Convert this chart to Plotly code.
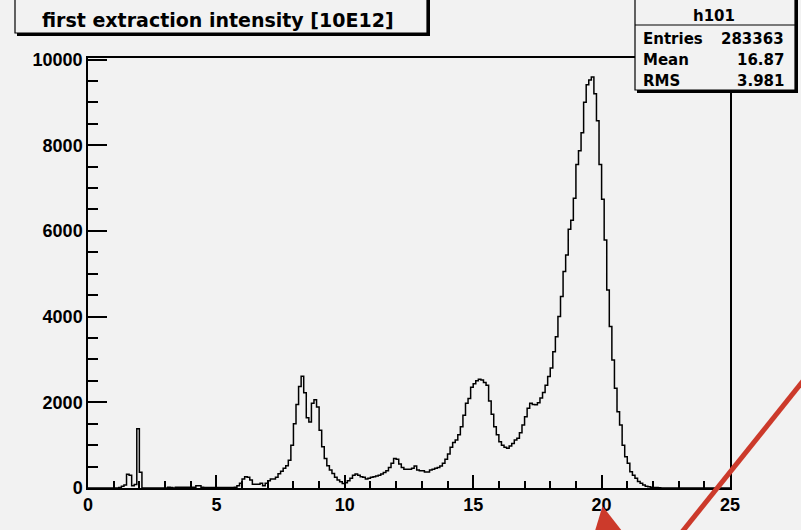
import numpy as np
import plotly.graph_objects as go

# -----------------------------------------------------------------------------
# Histogram h101: 250 bins of width 0.1 between 0 and 25
# -----------------------------------------------------------------------------
BIN_WIDTH = 0.1
counts = [
    # 0.0 - 0.9
    0, 0, 0, 0, 0, 0, 0, 0, 0, 0,
    # 1.0 - 1.9
    0, 0, 10, 40, 70, 320, 300, 55, 80, 1380,
    # 2.0 - 2.9
    370, 0, 0, 0, 0, 0, 0, 0, 0, 0,
    # 3.0 - 3.9
    0, 20, 10, 0, 15, 20, 20, 20, 20, 20,
    # 4.0 - 4.9
    20, 20, 55, 55, 15, 10, 10, 10, 10, 10,
    # 5.0 - 5.9
    10, 10, 10, 10, 10, 10, 10, 20, 50, 110,
    # 6.0 - 6.9
    210, 265, 250, 185, 90, 85, 85, 110, 50, 110,
    # 7.0 - 7.9
    170, 210, 210, 250, 330, 390, 460, 520, 650, 1000,
    # 8.0 - 8.9
    1500, 1950, 2370, 2610, 2220, 1640, 1540, 1980, 2060, 1890,
    # 9.0 - 9.9
    1350, 960, 690, 520, 420, 340, 250, 185, 145, 105,
    # 10.0 - 10.9
    125, 170, 225, 300, 325, 300, 265, 250, 210, 225,
    # 11.0 - 11.9
    250, 265, 280, 300, 325, 360, 400, 480, 575, 690,
    # 12.0 - 12.9
    670, 560, 480, 435, 435, 435, 460, 515, 420, 400,
    # 13.0 - 13.9
    400, 375, 375, 420, 440, 460, 480, 515, 575, 670,
    # 14.0 - 14.9
    795, 950, 1060, 1120, 1240, 1430, 1700, 1980, 2090, 2350,
    # 15.0 - 15.9
    2430, 2500, 2540, 2520, 2460, 2400, 2030, 1720, 1430, 1240,
    # 16.0 - 16.9
    1080, 1000, 950, 925, 980, 1040, 1120, 1160, 1290, 1470,
    # 17.0 - 17.9
    1665, 1860, 1980, 1950, 1940, 1990, 2100, 2230, 2400, 2600,
    # 18.0 - 18.9
    2800, 3180, 3530, 4000, 4470, 5050, 5440, 6040, 6250, 6760,
    # 19.0 - 19.9
    7550, 7870, 8290, 9000, 9410, 9520, 9590, 9200, 8570, 7550,
    # 20.0 - 20.9
    6740, 5790, 4620, 3770, 2990, 2330, 1780, 1470, 1000, 730,
    # 21.0 - 21.9
    580, 380, 300, 230, 150, 110, 70, 40, 30, 20,
    # 22.0 - 22.9
    10, 10, 5, 0, 0, 0, 0, 0, 0, 0,
    # 23.0 - 24.9
    0, 0, 0, 0, 0, 0, 0, 0, 0, 0,
    0, 0, 0, 0, 0, 0, 0, 0, 0, 0,
]
bin_edges = np.round(np.arange(len(counts) + 1) * BIN_WIDTH, 1)

x_ticks = [0, 5, 10, 15, 20, 25]
y_ticks = [0, 2000, 4000, 6000, 8000, 10000]
y_tick_text = ["0", "2000", "4000", "6000", "8000", "10000"]

title_text = "first extraction intensity [10E12]"
stats_name = "h101"
stats_rows = [("Entries", "283363"), ("Mean", "16.87"), ("RMS", "3.981")]

# -----------------------------------------------------------------------------
# Canvas geometry (pixels) - plot frame inside the 801x530 canvas
# -----------------------------------------------------------------------------
W, H = 801, 530
L, R, T, B = 88, 730, 58, 488
BG = "#f2f2f2"
RED = "#cc3a2b"


def px(x):
    return (x - L) / (R - L)


def py(y):
    return (B - y) / (B - T)


fig = go.Figure()

fig.add_trace(
    go.Scatter(
        x=bin_edges,
        y=counts + [counts[-1]],
        mode="lines",
        line=dict(color="black", width=1.5, shape="hv"),
        hoverinfo="skip",
        showlegend=False,
    )
)

axis_font = dict(family="Liberation Sans", size=18, color="black", weight="bold")

fig.update_xaxes(
    range=[0, 25],
    tickvals=x_ticks,
    ticks="inside",
    ticklen=13,
    tickwidth=1.5,
    tickcolor="black",
    minor=dict(ticks="inside", ticklen=7, dtick=1, tickwidth=1.5, tickcolor="black"),
    showline=True,
    linecolor="black",
    linewidth=1.5,
    mirror=True,
    showgrid=False,
    zeroline=False,
    tickfont=axis_font,
)
fig.update_yaxes(
    range=[0, 10035],
    tickvals=y_ticks,
    ticktext=y_tick_text,
    ticks="inside",
    ticklen=19,
    tickwidth=1.5,
    tickcolor="black",
    minor=dict(ticks="inside", ticklen=10, dtick=500, tickwidth=1.5, tickcolor="black"),
    showline=True,
    linecolor="black",
    linewidth=1.5,
    mirror=True,
    showgrid=False,
    zeroline=False,
    tickfont=axis_font,
)

shapes = []
annotations = []

# title box with ROOT-style shadow
shapes.append(dict(type="rect", xref="paper", yref="paper",
                   x0=px(17), x1=px(430), y0=py(-5), y1=py(36),
                   fillcolor="black", line=dict(width=0), layer="above"))
shapes.append(dict(type="rect", xref="paper", yref="paper",
                   x0=px(15), x1=px(427), y0=py(-5), y1=py(33),
                   fillcolor=BG, line=dict(color="black", width=1.2), layer="above"))
annotations.append(dict(xref="paper", yref="paper", x=px(218), y=py(20),
                        text=title_text, showarrow=False,
                        xanchor="center", yanchor="middle",
                        font=dict(family="DejaVu Sans", size=19, color="black", weight="bold")))

# stats box
shapes.append(dict(type="rect", xref="paper", yref="paper",
                   x0=px(637), x1=px(798), y0=py(-5), y1=py(93),
                   fillcolor="black", line=dict(width=0), layer="above"))
shapes.append(dict(type="rect", xref="paper", yref="paper",
                   x0=px(635), x1=px(795), y0=py(-5), y1=py(90),
                   fillcolor=BG, line=dict(color="black", width=1.2), layer="above"))
shapes.append(dict(type="line", xref="paper", yref="paper",
                   x0=px(635), x1=px(795), y0=py(25), y1=py(25),
                   line=dict(color="black", width=1.2), layer="above"))
stats_font = dict(family="DejaVu Sans", size=15, color="black", weight="bold")
annotations.append(dict(xref="paper", yref="paper", x=px(714), y=py(16),
                        text=stats_name, showarrow=False,
                        xanchor="center", yanchor="middle", font=stats_font))
for i, (label, value) in enumerate(stats_rows):
    yy = py(39 + 21 * i)
    annotations.append(dict(xref="paper", yref="paper", x=px(641), y=yy,
                            text=label, showarrow=False,
                            xanchor="left", yanchor="middle", font=stats_font))
    annotations.append(dict(xref="paper", yref="paper", x=px(786), y=yy,
                            text=value, showarrow=False,
                            xanchor="right", yanchor="middle", font=stats_font))

# red markup drawn over the screenshot
shapes.append(dict(type="line", xref="paper", yref="paper",
                   x0=px(803), y0=py(381), x1=px(682), y1=py(532),
                   line=dict(color=RED, width=5), layer="above"))
shapes.append(dict(type="path", xref="paper", yref="paper",
                   path="M {} {} L {} {} L {} {} Z".format(
                       px(595), py(531), px(602.5), py(506), px(622), py(531)),
                   fillcolor=RED, line=dict(width=0), layer="above"))

fig.update_layout(
    width=W,
    height=H,
    margin=dict(l=L, r=W - R, t=T, b=H - B, pad=0, autoexpand=False),
    paper_bgcolor=BG,
    plot_bgcolor=BG,
    shapes=shapes,
    annotations=annotations,
    showlegend=False,
)

# drop the browser's default 8px body margin so the canvas sits at (0, 0)
fig.write_html(
    "out.html",
    config={"displayModeBar": False},
    post_script="document.body.style.margin='0px';document.body.style.background='%s';" % BG,
)
